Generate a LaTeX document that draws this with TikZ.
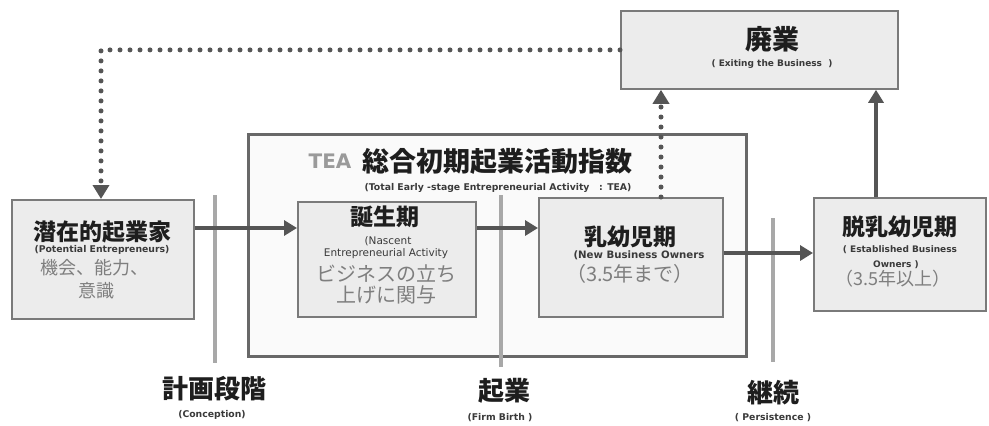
\documentclass[tikz,border=0pt]{standalone}
\usepackage{fontspec}
\setmainfont{Noto Sans CJK JP}
\newfontfamily\latf{DejaVu Sans}
\usetikzlibrary{arrows.meta}
\definecolor{boxfill}{HTML}{ECECEC}
\definecolor{boxline}{HTML}{7A7A7A}
\definecolor{arrowc}{HTML}{555555}
\definecolor{vlinec}{HTML}{A8A8A8}
\definecolor{titlec}{HTML}{1E1E1E}
\definecolor{bodyc}{HTML}{7E7E7E}
\definecolor{smallc}{HTML}{3A3A3A}
\definecolor{teagray}{HTML}{9A9A9A}
\newcommand{\fsz}[1]{\fontsize{#1}{#1}\selectfont}
\begin{document}
\begin{tikzpicture}[x=1pt,y=-1pt,
  stagebox/.style={draw=boxline, line width=1.8pt, fill=boxfill, anchor=north west, inner sep=0pt},
  teabox/.style={draw=boxline!85!black, line width=3pt, fill=black!2, anchor=north west, inner sep=0pt},
  arr/.style={draw=arrowc, line width=4pt, -{Triangle[length=13pt,width=15pt]}},
  dotarr/.style={draw=arrowc, line width=5pt, line cap=round, dash pattern=on 0pt off 10pt, -{Triangle[length=14pt,width=16pt]}},
  vline/.style={draw=vlinec, line width=4.5pt},
  ttl/.style={font=\bfseries\fsz{23}, text=titlec, inner sep=0pt},
  bigttl/.style={font=\bfseries\fsz{27}, text=titlec, inner sep=0pt},
  lab/.style={font=\bfseries\fsz{26}, text=titlec, inner sep=0pt},
  sm/.style={font=\latf\bfseries\fsz{9.3}, text=smallc, inner sep=0pt},
  smb/.style={font=\latf\fsz{10.5}, text=smallc, inner sep=0pt},
  body/.style={font=\fsz{18}, text=bodyc, inner sep=0pt},
  bodyl/.style={font=\fsz{20}, text=bodyc, inner sep=0pt}
]
\useasboundingbox (0,0) rectangle (989,426);
\fill[white] (0,0) rectangle (989,426);

% TEA frame
\node[teabox, minimum width=498pt, minimum height=222pt] (tea) at (247,133) {};

% divider lines
\coordinate (v1a) at (215,195); \coordinate (v1b) at (215,363);
\coordinate (v2a) at (501,195); \coordinate (v2b) at (501,367);
\coordinate (v3a) at (773,218); \coordinate (v3b) at (773,362);
\draw[vline] (v1a) -- (v1b);
\draw[vline] (v2a) -- (v2b);
\draw[vline] (v3a) -- (v3b);

% stage boxes
\node[stagebox, minimum width=182pt, minimum height=119pt] (senzai) at (11,199) {};
\node[stagebox, minimum width=178pt, minimum height=115pt] (tanjo) at (297,201) {};
\node[stagebox, minimum width=184pt, minimum height=119pt] (nyu) at (538,197) {};
\node[stagebox, minimum width=172pt, minimum height=113pt] (datsu) at (813,197) {};
\node[stagebox, minimum width=277pt, minimum height=78pt] (haigyo) at (620,10) {};

% arrows
\draw[arr] (senzai.east |- 0,228) -- (tanjo.west |- 0,228);
\draw[arr] (tanjo.east |- 0,228) -- (nyu.west |- 0,228);
\draw[arr] (nyu.east |- 0,253) -- (datsu.west |- 0,253);
\draw[arr] (datsu.north -| 876,0) -- (haigyo.south -| 876,0);
\draw[dotarr] (nyu.north -| 661,0) -- (haigyo.south -| 661,0);
\draw[dotarr] (haigyo.west) -| (senzai.north -| 101,0);

% texts: potential entrepreneurs
\node[ttl] (t1) at (103,232) {潜在的起業家};
\node[sm] (s1) at (102,250) {(Potential Entrepreneurs)};
\node[body] (b1a) at (95,268) {機会、能力、};
\node[body] (b1b) at (96,291) {意識};

% nascent
\node[ttl] (t2) at (385,217) {誕生期};
\node[smb] (s2a) at (388,241) {(Nascent};
\node[smb] (s2b) at (386,254) {Entrepreneurial Activity};
\node[bodyl] (b2a) at (386,274) {ビジネスの立ち};
\node[bodyl] (b2b) at (386,295) {上げに関与};

% new business
\node[ttl] (t3) at (630,237) {乳幼児期};
\node[sm, font=\latf\bfseries\fsz{10.2}] (s3) at (639,255) {(New Business Owners};
\node[bodyl] (b3) at (630,274) {（3.5年まで）};

% established
\node[ttl] (t4) at (900,227) {脱乳幼児期};
\node[sm, font=\latf\bfseries\fsz{9}] (s4a) at (900,250) {( Established Business};
\node[sm, font=\latf\bfseries\fsz{9}] (s4b) at (896,265) {Owners )};
\node[body] (b4) at (893,279) {（3.5年以上）};

% exiting
\node[bigttl] (t5) at (772,39) {廃業};
\node[sm, font=\latf\bfseries\fsz{9}] (s5) at (772,64) {( Exiting the Business \ )};

% TEA title
\node[font=\latf\bfseries\fsz{20}, text=teagray, inner sep=0pt] (teaT) at (330,161) {TEA};
\node[bigttl] (teaJ) at (497,161) {総合初期起業活動指数};
\node[sm] (teaS) at (498,188) {(Total Early -stage Entrepreneurial Activity \ \ : TEA)};

% bottom labels
\node[lab] (l1) at (214,389) {計画段階};
\node[sm] (l1s) at (212,415) {(Conception)};
\node[lab] (l2) at (504,391) {起業};
\node[sm] (l2s) at (500,418) {(Firm Birth )};
\node[lab] (l3) at (773,393) {継続};
\node[sm] (l3s) at (773,418) {( Persistence )};
\end{tikzpicture}
\end{document}
